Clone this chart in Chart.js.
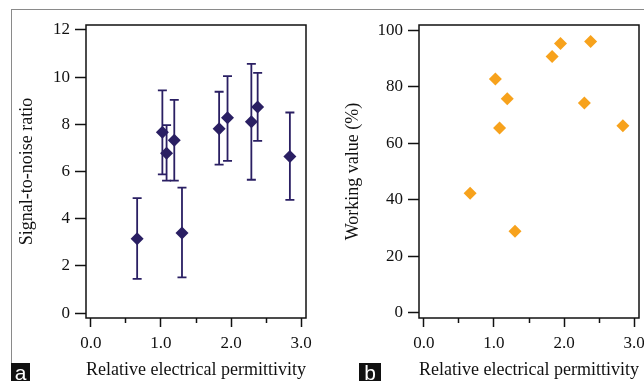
<!DOCTYPE html>
<html>
<head>
<meta charset="utf-8">
<script src="https://cdn.jsdelivr.net/npm/chart.js@4.4.1/dist/chart.umd.min.js"></script>
<style>
  html, body { margin: 0; padding: 0; width: 644px; height: 381px; overflow: hidden; background: #fff; }
  #wrapA { position: absolute; left: 0; top: 0; width: 330px; height: 381px; }
  #wrapB { position: absolute; left: 330px; top: 0; width: 330px; height: 381px; }
  .frameTop { position: absolute; left: 11px; top: 9px; width: 640px; height: 0; border-top: 1.5px solid #8a8a8a; }
  .frameLeft { position: absolute; left: 11px; top: 9px; width: 0; height: 380px; border-left: 1.5px solid #8a8a8a; }
  .tag { position: absolute; top: 363px; height: 18px; background: #111; color: #fff;
         font-family: "Liberation Sans", Arial, sans-serif; font-size: 21px; line-height: 20px; text-align: center; }
</style>
</head>
<body>
<div class="frameTop"></div>
<div class="frameLeft"></div>
<div id="wrapA"><canvas id="chartA" width="330" height="381"></canvas></div>
<div id="wrapB"><canvas id="chartB" width="330" height="381"></canvas></div>
<div class="tag" style="left:11px;width:19px;">a</div>
<div class="tag" style="left:359px;width:22px;">b</div>
<script>
// Valores
const permittivity = [0.66, 1.02, 1.08, 1.19, 1.30, 1.83, 1.95, 2.29, 2.38, 2.84];
const snrValues = [3.15, 7.66, 6.77, 7.32, 3.39, 7.81, 8.28, 8.11, 8.73, 6.64];
const snrHigh = [4.87, 9.44, 7.97, 9.04, 5.32, 9.38, 10.04, 10.56, 10.18, 8.50];
const snrLow = [1.45, 5.88, 5.61, 5.61, 1.51, 6.29, 6.45, 5.65, 7.30, 4.80];
const workingValues = [42.3, 82.7, 65.4, 75.7, 28.9, 90.7, 95.3, 74.2, 96.0, 66.2];

const navy = "#2a1f63";
const orange = "#f7a21c";
const serif = "'Liberation Serif', 'Times New Roman', serif";

// Dibuja el marco completo del area del grafico
const boxPlugin = {
  id: "boxPlugin",
  afterDraw(chart) {
    const a = chart.chartArea;
    const ctx = chart.ctx;
    ctx.save();
    ctx.strokeStyle = "#111";
    ctx.lineWidth = 1.5;
    ctx.strokeRect(a.left, a.top, a.right - a.left, a.bottom - a.top);
    ctx.restore();
  }
};

// Barras de error usando las escalas del grafico
const errorBarPlugin = {
  id: "errorBarPlugin",
  beforeDatasetsDraw(chart) {
    const xs = chart.scales.x;
    const ys = chart.scales.y;
    const ctx = chart.ctx;
    ctx.save();
    ctx.strokeStyle = navy;
    ctx.lineWidth = 1.8;
    permittivity.forEach((xv, i) => {
      const x = xs.getPixelForValue(xv);
      const yTop = ys.getPixelForValue(snrHigh[i]);
      const yBot = ys.getPixelForValue(snrLow[i]);
      ctx.beginPath();
      ctx.moveTo(x, yTop);
      ctx.lineTo(x, yBot);
      ctx.moveTo(x - 4.5, yTop);
      ctx.lineTo(x + 4.5, yTop);
      ctx.moveTo(x - 4.5, yBot);
      ctx.lineTo(x + 4.5, yBot);
      ctx.stroke();
    });
    ctx.restore();
  }
};

function buildConfig(values, color, yMin, yMax, yStep, yTitle, yWidth, titlePad, padRight, plugins) {
  const points = permittivity.map((x, i) => ({ x: x, y: values[i] }));
  return {
    type: "scatter",
    data: {
      datasets: [{
        data: points,
        pointStyle: "rectRot",
        pointRadius: 6.5,
        pointHoverRadius: 6.5,
        backgroundColor: color,
        borderColor: color,
        borderWidth: 0
      }]
    },
    options: {
      responsive: false,
      animation: false,
      events: [],
      layout: { padding: { top: 25, right: padRight, left: 0, bottom: 0 } },
      plugins: { legend: { display: false }, tooltip: { enabled: false } },
      scales: {
        x: {
          type: "linear",
          min: -0.07,
          max: 3.07,
          afterFit: (s) => { s.height = 63; },
          ticks: {
            stepSize: 0.5,
            includeBounds: false,
            color: "#111",
            padding: 6,
            maxRotation: 0,
            font: { family: serif, size: 17 },
            callback: (v) => (Math.abs(v - Math.round(v)) < 1e-6 ? v.toFixed(1) : "")
          },
          grid: {
            drawOnChartArea: false,
            drawTicks: true,
            tickLength: 9,
            tickColor: "#111",
            tickWidth: 1.5,
            tickBorderDash: (ctx) => (Math.abs(ctx.tick.value - Math.round(ctx.tick.value)) < 1e-6 ? [] : [5, 50])
          },
          border: { display: false },
          title: {
            display: true,
            text: "Relative electrical permittivity",
            color: "#111",
            font: { family: serif, size: 18 },
            padding: { top: 0, bottom: 0 }
          }
        },
        y: {
          type: "linear",
          min: yMin,
          max: yMax,
          afterFit: (s) => { s.width = yWidth; },
          ticks: {
            stepSize: yStep,
            includeBounds: false,
            color: "#111",
            padding: 5,
            font: { family: serif, size: 17 }
          },
          grid: {
            drawOnChartArea: false,
            drawTicks: true,
            tickLength: 11,
            tickColor: "#111",
            tickWidth: 1.5
          },
          border: { display: false },
          title: {
            display: true,
            text: yTitle,
            color: "#111",
            font: { family: serif, size: 18 },
            padding: { top: titlePad, bottom: 0 }
          }
        }
      }
    },
    plugins: plugins
  };
}

new Chart(document.getElementById("chartA"),
  buildConfig(snrValues, navy, -0.21, 12.21, 2, "Signal-to-noise ratio", 86, 16, 24, [errorBarPlugin, boxPlugin]));

new Chart(document.getElementById("chartB"),
  buildConfig(workingValues, orange, -1.8, 101.8, 20, "Working value (%)", 89, 12, 21, [boxPlugin]));
</script>
</body>
</html>
